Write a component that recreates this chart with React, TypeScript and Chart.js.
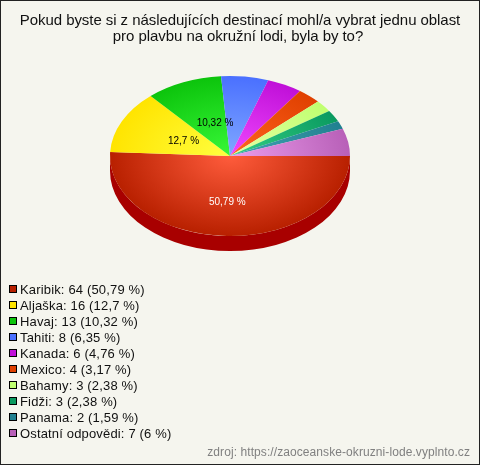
import React, { useEffect, useRef } from "react";
import { Chart, registerables } from "chart.js";

Chart.register(...registerables);

const categories = ["Karibik", "Aljaška", "Havaj", "Tahiti", "Kanada", "Mexico", "Bahamy", "Fidži", "Panama", "Ostatní odpovědi"];
const values = [64, 16, 13, 8, 6, 4, 3, 3, 2, 7];
const percentLabels = ["50,79", "12,7", "10,32", "6,35", "4,76", "3,17", "2,38", "2,38", "1,59", "6"];
const innerColors = ["#ff5c3c", "#ffff40", "#38f838", "#80a8ff", "#f048ff", "#ff6420", "#e4ffa4", "#34d084", "#44a4b4", "#ec9cec"];
const rimColors = ["#b82000", "#ffe400", "#0cc40c", "#4a70ff", "#c010d8", "#e04000", "#c0ff70", "#0a9a60", "#208090", "#b860b8"];
const sideColors = ["#a80000", "#c8b000", "#089008", "#3050c0", "#9008a0", "#b03000", "#90c050", "#087048", "#186070", "#904890"];
const titleLines = ["Pokud byste si z následujících destinací mohl/a vybrat jednu oblast", "pro plavbu na okružní lodi, byla by to?"];
const sourceText = "zdroj: https://zaoceanske-okruzni-lode.vyplnto.cz";

const FONT = '"Liberation Sans", Arial, sans-serif';
const BG = "#f5f5ee";
const SQUASH = 2 / 3;
const DEPTH = 15;

const piePlugin = {
  id: "pie3d",
  beforeDraw(chart: any) {
    const { ctx, width, height } = chart;
    ctx.save();
    ctx.fillStyle = BG;
    ctx.fillRect(0, 0, width, height);
    ctx.strokeStyle = "#222222";
    ctx.lineWidth = 1;
    ctx.strokeRect(0.5, 0.5, width - 1, height - 1);
    ctx.restore();
  },
  beforeDatasetsDraw(chart: any) {
    const { ctx } = chart;
    const arcs = chart.getDatasetMeta(0).data;
    const { x: cx, y: cy, outerRadius: r } = arcs[0];
    const ry = r * SQUASH;
    arcs.forEach((arc: any, i: number) => {
      const a0 = Math.max(arc.startAngle, 0);
      const a1 = Math.min(arc.endAngle, Math.PI);
      if (a1 <= a0) return;
      ctx.save();
      ctx.fillStyle = sideColors[i];
      ctx.beginPath();
      ctx.ellipse(cx, cy, r, ry, 0, a0, a1);
      ctx.ellipse(cx, cy + DEPTH, r, ry, 0, a1, a0, true);
      ctx.closePath();
      ctx.fill();
      ctx.restore();
    });
    ctx.save();
    ctx.translate(cx, cy);
    ctx.scale(1, SQUASH);
    ctx.translate(-cx, -cy);
  },
  afterDatasetsDraw(chart: any) {
    const { ctx } = chart;
    ctx.restore();
    const arcs = chart.getDatasetMeta(0).data;
    const { x: cx, y: cy, outerRadius: r } = arcs[0];
    const ry = r * SQUASH;
    const placement: Record<number, { f: number; dx: number; color: string }> = {
      0: { f: 0.575, dx: -1, color: "#ffffff" },
      1: { f: 0.43, dx: 0, color: "#000000" },
      2: { f: 0.45, dx: 6, color: "#000000" },
    };
    ctx.save();
    ctx.font = `10px ${FONT}`;
    ctx.textAlign = "center";
    ctx.textBaseline = "middle";
    Object.keys(placement).forEach((k) => {
      const i = Number(k);
      const p = placement[i];
      const mid = (arcs[i].startAngle + arcs[i].endAngle) / 2;
      ctx.fillStyle = p.color;
      ctx.fillText(`${percentLabels[i]} %`, cx + Math.cos(mid) * r * p.f + p.dx, cy + Math.sin(mid) * ry * p.f);
    });
    ctx.restore();
  },
  afterDraw(chart: any) {
    const { ctx, width } = chart;
    ctx.save();
    ctx.textBaseline = "alphabetic";
    ctx.textAlign = "center";
    ctx.font = `15px ${FONT}`;
    ctx.letterSpacing = "-0.06px";
    ctx.fillStyle = "#111111";
    titleLines.forEach((line, i) => ctx.fillText(line, 240 - i * 2, 25 + i * 16));
    ctx.textAlign = "left";
    ctx.font = `13px ${FONT}`;
    ctx.letterSpacing = "0.16px";
    categories.forEach((name, i) => {
      const top = 285 + i * 16;
      ctx.fillStyle = rimColors[i];
      ctx.fillRect(9.5, top + 0.5, 7, 7);
      ctx.strokeStyle = "#000000";
      ctx.lineWidth = 1;
      ctx.strokeRect(9.5, top + 0.5, 7, 7);
      ctx.fillStyle = "#111111";
      ctx.fillText(`${name}: ${values[i]} (${percentLabels[i]} %)`, 20, top + 9);
    });
    ctx.textAlign = "right";
    ctx.font = `12px ${FONT}`;
    ctx.letterSpacing = "0.08px";
    ctx.fillStyle = "#808080";
    ctx.fillText(sourceText, width - 10, 456);
    ctx.restore();
  },
};

export default function App() {
  const ref = useRef<HTMLCanvasElement>(null);
  useEffect(() => {
    const c = ref.current!;
    const chart = new Chart(c, {
      type: "pie",
      data: {
        labels: categories,
        datasets: [
          {
            data: values,
            borderWidth: 0,
            hoverOffset: 0,
            backgroundColor: (context: any) => {
              const { chart, dataIndex } = context;
              const area = chart.chartArea;
              if (!area) return rimColors[dataIndex];
              const cx = (area.left + area.right) / 2;
              const cy = (area.top + area.bottom) / 2;
              const g = chart.ctx.createRadialGradient(cx, cy, 0, cx, cy, 120);
              g.addColorStop(0, innerColors[dataIndex]);
              g.addColorStop(1, rimColors[dataIndex]);
              return g;
            },
          },
        ],
      },
      options: {
        responsive: false,
        animation: false,
        rotation: 90,
        layout: { padding: { left: 110, right: 130, top: 36, bottom: 189 } },
        plugins: {
          legend: { display: false },
          tooltip: { enabled: false },
          title: { display: false },
        },
      },
      plugins: [piePlugin],
    } as any);
    return () => chart.destroy();
  }, []);
  return (
    <div style={{ position: "fixed", left: 0, top: 0, width: 480, height: 465 }}>
      <canvas ref={ref} width={480} height={465} style={{ display: "block" }} />
    </div>
  );
}
